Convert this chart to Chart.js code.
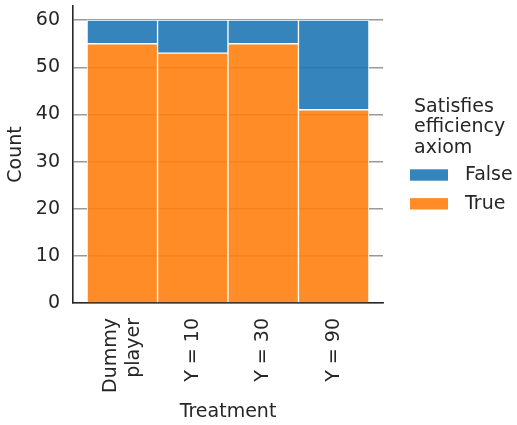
<!DOCTYPE html>
<html>
<head>
<meta charset="utf-8">
<script src="https://cdn.jsdelivr.net/npm/chart.js@4"></script>
<style>
  html, body { margin: 0; padding: 0; background: #fff; }
  #wrap { width: 517px; height: 425px; }
</style>
</head>
<body>
<div id="wrap"><canvas id="c" width="517" height="425"></canvas></div>
<script>
const categories = [["Dummy", "player"], ["Y = 10"], ["Y = 30"], ["Y = 90"]];
const trueCounts = [55, 53, 55, 41];
const falseCounts = [5, 7, 5, 19];
const yTicks = [0, 10, 20, 30, 40, 50, 60];
const legendTitle = ["Satisfies", "efficiency", "axiom"];
const seriesNames = ["False", "True"];

const FONT = "DejaVu Sans";
const FS = 19;
const TXT = "#262626";
const BLUE = "rgba(31,119,180,0.9)";
const ORANGE = "rgba(255,127,14,0.9)";

// Draws the rotated category labels centred (as a block) under each bar
const xLabelPlugin = {
  id: "xLabels",
  afterDraw(chart) {
    const ctx = chart.ctx;
    const xs = chart.scales.x;
    ctx.save();
    ctx.fillStyle = TXT;
    ctx.font = FS + "px '" + FONT + "'";
    ctx.textAlign = "right";
    ctx.textBaseline = "middle";
    const lineH = 23;
    const top = xs.top + 15;
    categories.forEach((lines, i) => {
      const px = xs.getPixelForValue(i);
      ctx.save();
      ctx.translate(px, top);
      ctx.rotate(-Math.PI / 2);
      const n = lines.length;
      lines.forEach((ln, j) => {
        ctx.fillText(ln, 0, (j - (n - 1) / 2) * lineH);
      });
      ctx.restore();
    });
    ctx.restore();
  }
};

const legendPlugin = {
  id: "customLegend",
  afterDraw(chart) {
    const ctx = chart.ctx;
    ctx.save();
    ctx.fillStyle = TXT;
    ctx.font = FS + "px '" + FONT + "'";
    ctx.textAlign = "left";
    ctx.textBaseline = "alphabetic";
    const baselines = [111.5, 132.2, 152.8];
    legendTitle.forEach((t, i) => ctx.fillText(t, 414, baselines[i]));
    const rows = [{ c: BLUE, y: 175 }, { c: ORANGE, y: 203.8 }];
    rows.forEach((r, i) => {
      ctx.fillStyle = r.c;
      ctx.fillRect(410, r.y - 5.7, 38, 11.4);
      ctx.fillStyle = TXT;
      ctx.textBaseline = "middle";
      ctx.fillText(seriesNames[i], 465, r.y);
    });
    ctx.restore();
  }
};

new Chart(document.getElementById("c"), {
  type: "bar",
  data: {
    datasets: [
      {
        label: "True",
        data: trueCounts.map((v, i) => ({ x: i, y: v })),
        backgroundColor: ORANGE,
        borderColor: "#ffffff",
        borderWidth: 1,
        borderSkipped: "start",
        barPercentage: 1,
        categoryPercentage: 1
      },
      {
        label: "False",
        data: falseCounts.map((v, i) => ({ x: i, y: v })),
        backgroundColor: BLUE,
        borderColor: "#ffffff",
        borderWidth: 1,
        borderSkipped: false,
        barPercentage: 1,
        categoryPercentage: 1
      }
    ]
  },
  options: {
    responsive: false,
    animation: false,
    layout: { padding: { left: 0, right: 134, top: 6, bottom: 0 } },
    plugins: {
      legend: { display: false },
      tooltip: { enabled: false }
    },
    scales: {
      x: {
        type: "linear",
        offset: false,
        min: -0.7,
        max: 3.7,
        stacked: true,
        afterBuildTicks(scale) {
          scale.ticks = categories.map((_, i) => ({ value: i }));
        },
        afterFit(scale) {
          scale.height = 122;
          scale.paddingLeft = 0;
          scale.paddingRight = 0;
        },
        grid: { display: false, drawTicks: false, offset: false },
        border: { display: true, color: TXT, width: 1.6 },
        ticks: { display: false },
        title: {
          display: true,
          text: "Treatment",
          color: TXT,
          font: { family: FONT, size: FS },
          padding: { top: 0, bottom: 1.5 }
        }
      },
      y: {
        min: 0,
        max: 63,
        stacked: true,
        afterBuildTicks(scale) {
          scale.ticks = yTicks.map((v) => ({ value: v }));
        },
        afterFit(scale) {
          scale.width = 73;
          scale.paddingTop = 0;
          scale.paddingBottom = 0;
        },
        grid: { color: "#9a9a9a", lineWidth: 1.4, drawTicks: false },
        border: { display: true, color: TXT, width: 1.6 },
        ticks: {
          padding: 13,
          color: TXT,
          font: { family: FONT, size: FS }
        },
        title: {
          display: true,
          text: "Count",
          color: TXT,
          font: { family: FONT, size: FS },
          padding: { top: 4.5, bottom: 0 }
        }
      }
    }
  },
  plugins: [xLabelPlugin, legendPlugin]
});
</script>
</body>
</html>
